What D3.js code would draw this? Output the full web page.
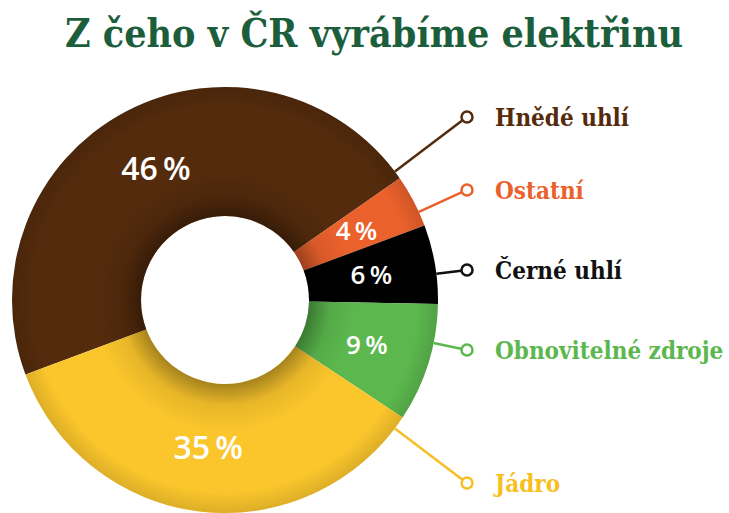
<!DOCTYPE html>
<html><head><meta charset="utf-8">
<script src="https://cdn.jsdelivr.net/npm/d3@7"></script>
<style>body{margin:0;background:#fff;}svg{display:block;}</style>
</head><body>
<script>
const title = "Z čeho v ČR vyrábíme elektřinu";
const categories = ["Hnědé uhlí", "Ostatní", "Černé uhlí", "Obnovitelné zdroje", "Jádro"];
const values = [46, 4, 6, 9, 35];
const colors = ["#542b0c", "#eb612c", "#000000", "#5cb84e", "#fbc62c"];
const labelColors = ["#542b0c", "#eb612c", "#111111", "#5cb84e", "#f6bf22"];
const pctLabels = ["46\u2009%", "4\u2009%", "6\u2009%", "9\u2009%", "35\u2009%"];

const W = 729, H = 513;
const cx = 225, cy = 300, R = 213, r0 = 84;
const svg = d3.select("body").append("svg").attr("width", W).attr("height", H);
const serif = "'DejaVu Serif Condensed', 'DejaVu Serif', serif";

const defs = svg.append("defs");
const grad = defs.append("radialGradient").attr("id", "shade")
  .attr("gradientUnits", "userSpaceOnUse").attr("cx", 0).attr("cy", 0).attr("r", R);
[[r0 / R, 0.34], [r0 / R + 0.1, 0.08], [0.62, 0], [0.9, 0], [1, 0.12]].forEach(([o, a]) =>
  grad.append("stop").attr("offset", o).attr("stop-color", "#000").attr("stop-opacity", a));

svg.append("text").attr("x", 65).attr("y", 47)
  .attr("font-family", serif).attr("font-stretch", "condensed")
  .attr("font-weight", "bold").attr("font-size", 40)
  .attr("textLength", 618).attr("lengthAdjust", "spacingAndGlyphs")
  .attr("fill", "#1c5e3b").text(title);

const deg = Math.PI / 180;
const pie = d3.pie().sort(null).value(d => d).startAngle(-110.5 * deg).endAngle(249.5 * deg);
const arcs = pie(values);
const arc = d3.arc().innerRadius(r0).outerRadius(R);
const g = svg.append("g").attr("transform", `translate(${cx},${cy})`);
g.selectAll("path.slice").data(arcs).join("path").attr("class", "slice")
  .attr("d", arc).attr("fill", (d, i) => colors[i]);
g.append("path")
  .attr("d", d3.arc().innerRadius(r0).outerRadius(R).startAngle(0).endAngle(2 * Math.PI)())
  .attr("fill", "url(#shade)");

const pctSizes = [32, 26, 26, 26, 32];
g.append("g").selectAll("text").data(arcs).join("text")
  .attr("transform", d => `translate(${arc.centroid(d)})`)
  .attr("text-anchor", "middle").attr("dy", "0.36em")
  .attr("font-family", "'Open Sans'").attr("font-weight", 600)
  .attr("font-size", (d, i) => pctSizes[i]).attr("fill", "#fff")
  .text((d, i) => pctLabels[i]);

// legend labels with leader lines
const labelX = 467;
const labelYs = [117, 190, 270, 350, 483];
const leg = svg.append("g");
arcs.forEach((d, i) => {
  const ly = labelYs[i];
  const dx = labelX - cx, dy = ly - cy;
  let a = Math.atan2(dx, -dy);
  a = Math.max(d.startAngle + 1.5 * deg, Math.min(d.endAngle - 1.5 * deg, a));
  const sx = cx + R * Math.sin(a), sy = cy - R * Math.cos(a);
  const len = Math.hypot(labelX - sx, ly - sy);
  const ex = labelX - (labelX - sx) / len * 6, ey = ly - (ly - sy) / len * 6;
  leg.append("line").attr("x1", sx).attr("y1", sy).attr("x2", ex).attr("y2", ey)
    .attr("stroke", labelColors[i]).attr("stroke-width", 2.5);
  leg.append("circle").attr("cx", labelX).attr("cy", ly).attr("r", 5.5)
    .attr("fill", "#fff").attr("stroke", labelColors[i]).attr("stroke-width", 2.5);
  leg.append("text").attr("x", labelX + 28).attr("y", ly).attr("dy", "0.36em")
    .attr("font-family", serif).attr("font-stretch", "condensed")
    .attr("font-weight", "bold").attr("font-size", 24)
    .attr("fill", labelColors[i]).text(categories[i]);
});
</script>
</body></html>
